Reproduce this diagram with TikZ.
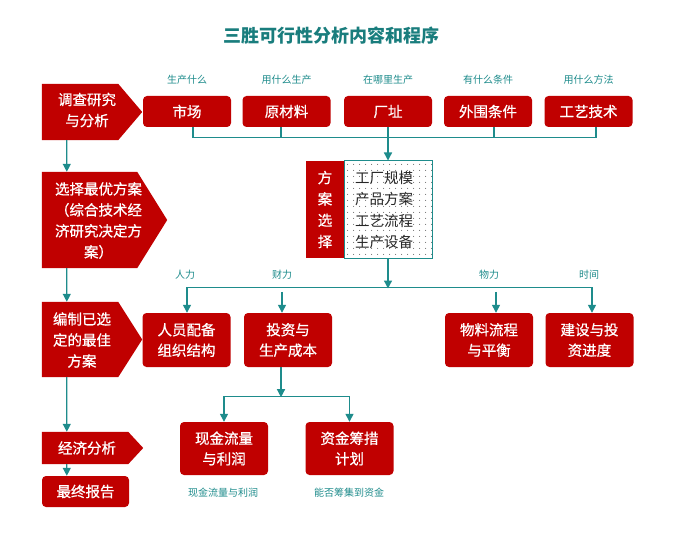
\documentclass[tikz,border=0pt]{standalone}
\usepackage{fontspec}
\setmainfont{Noto Sans CJK SC}
\newfontfamily\wfont[FakeBold=0.7]{Noto Sans CJK SC}
\usetikzlibrary{arrows.meta,patterns.meta,calc}
\definecolor{bred}{RGB}{192,0,0}
\definecolor{teall}{RGB}{30,140,140}
\definecolor{tealt}{RGB}{25,125,125}
\begin{document}
\begin{tikzpicture}[x=1bp,y=-1bp,
  box/.style={fill=bred, rounded corners=4bp, text=white, font=\wfont\fontsize{14.5bp}{20.5bp}\selectfont, align=center, inner sep=0, minimum width=88bp},
  pentarea/.style={inner sep=0},
  wtext/.style={text=white, font=\wfont\fontsize{14.5bp}{21bp}\selectfont, align=center, inner sep=0},
  lbl/.style={text=teall, font=\fontsize{10bp}{12bp}\selectfont, inner sep=0},
  conn/.style={draw=teall, line width=1.3bp},
  arr/.style={conn, -{Triangle[length=8bp,width=8bp]}},
  arrs/.style={conn, {Triangle[length=8bp,width=8bp]}-{Triangle[length=8bp,width=8bp]}},
]
\fill[white] (0,0) rectangle (682,536);
\useasboundingbox (0,0) rectangle (682,536);

% title
\node[font=\bfseries\fontsize{18bp}{20bp}\selectfont, text=tealt, inner sep=0] (title) at (331,36) {三胜可行性分析内容和程序};

% top row labels
\node[lbl] (l1) at (187,80) {生产什么};
\node[lbl] (l2) at (286.5,80) {用什么生产};
\node[lbl] (l3) at (388,80) {在哪里生产};
\node[lbl] (l4) at (488,80) {有什么条件};
\node[lbl] (l5) at (588.5,80) {用什么方法};

% top row boxes
\node[box, minimum height=31bp] (sc) at (187,111.5) {市场};
\node[box, minimum height=31bp] (ycl) at (286.5,111.5) {原材料};
\node[box, minimum height=31bp] (cz) at (388,111.5) {厂址};
\node[box, minimum height=31bp] (ww) at (488,111.5) {外围条件};
\node[box, minimum height=31bp] (gy) at (588.5,111.5) {工艺技术};

% left column areas
\node[pentarea, minimum width=76bp, minimum height=56bp] (p1) at (80,112) {};
\node[pentarea, minimum width=95bp, minimum height=96bp] (p2) at (89.5,220) {};
\node[pentarea, minimum width=76bp, minimum height=75bp] (p3) at (80,339.5) {};
\node[pentarea, minimum width=86bp, minimum height=32bp] (p4) at (85,448) {};
\fill[bred] (p1.north west) -- (p1.north east) -- ($(p1.east)+(24,0)$) -- (p1.south east) -- (p1.south west) -- cycle;
\fill[bred] (p2.north west) -- (p2.north east) -- ($(p2.east)+(30,0)$) -- (p2.south east) -- (p2.south west) -- cycle;
\fill[bred] (p3.north west) -- (p3.north east) -- ($(p3.east)+(24,0)$) -- (p3.south east) -- (p3.south west) -- cycle;
\fill[bred] (p4.north west) -- (p4.north east) -- ($(p4.east)+(15,0)$) -- (p4.south east) -- (p4.south west) -- cycle;
\node[wtext] (t1) at (87,110) {调查研究\\与分析};
\node[wtext] (t2) at (98.5,220.5) {选择最优方案\\（综合技术经\\济研究决定方\\案）};
\node[wtext] (t3) at (82,340) {编制已选\\定的最佳\\方案};
\node[wtext] (t4) at (87,448) {经济分析};
\node[box, minimum width=87bp, minimum height=31bp] (rep) at (85.5,491.5) {最终报告};

% scheme selection box
\node[fill=bred, minimum width=38bp, minimum height=97bp, inner sep=0, text=white, align=center, font=\wfont\fontsize{14.5bp}{21.3bp}\selectfont] (fa) at (325,209.5) {方\\案\\选\\择};
\node[draw=teall, line width=1bp, pattern={Dots[distance=6bp,radius=0.6bp]}, pattern color=black!55, minimum width=88bp, minimum height=97bp, inner sep=0] (fb) at (388,209.5) {};
\node[text=black!85, align=left, inner sep=0, font=\fontsize{14.5bp}{21.3bp}\selectfont] (fbt) at (384,210) {工厂规模\\产品方案\\工艺流程\\生产设备};

% second row labels
\node[lbl] (m1) at (185,275) {人力};
\node[lbl] (m2) at (282,275) {财力};
\node[lbl] (m3) at (489,275) {物力};
\node[lbl] (m4) at (589,275) {时间};

% second row boxes
\node[box, minimum height=54bp] (ry) at (186.5,340) {人员配备\\组织结构};
\node[box, minimum height=54bp] (tz) at (288,340) {投资与\\生产成本};
\node[box, minimum height=54bp] (wl) at (489,340) {物料流程\\与平衡};
\node[box, minimum height=54bp] (js) at (589.5,340) {建设与投\\资进度};

% third row boxes
\node[box, minimum height=53bp] (xj) at (224,448.5) {现金流量\\与利润};
\node[box, minimum height=53bp] (zj) at (349.5,448.5) {资金筹措\\计划};
\node[lbl] (b1) at (223,493) {现金流量与利润};
\node[lbl] (b2) at (349,493) {能否筹集到资金};

% connectors: top bus
\draw[conn] ($(sc.south)+(6,0)$) -- ($(sc.south)+(6,10)$) -| ($(gy.south)+(7.5,0)$);
\draw[conn] ($(ycl.south)+(-5.5,0)$) -- ($(ycl.south)+(-5.5,10)$);
\draw[conn] ($(ww.south)+(6,0)$) -- ($(ww.south)+(6,10)$);
\draw[arr] (cz.south) -- (fb.north);

% middle bus
\draw[arr] (fb.south) -- ($(fb.south)+(0,30)$);
\draw[arrs] ($(ry.north)+(0.5,0)$) |- ($(js.north)+(2.5,-25)$) -- ($(js.north)+(2.5,0)$);
\draw[arr] ($(tz.north)+(-6,-21)$) -- ($(tz.north)+(-6,0)$);
\draw[arr] ($(wl.north)+(7,-21)$) -- ($(wl.north)+(7,0)$);

% bottom bus
\draw[arr] ($(tz.south)+(-7,0)$) -- ($(tz.south)+(-7,30)$);
\draw[arrs] (xj.north) |- ($(zj.north)+(0,-25)$) -- (zj.north);

% left column arrows
\draw[arr] ($(p1.south west)+(25,0)$) -- ($(p2.north west)+(25,0)$);
\draw[arr] ($(p2.south west)+(25,0)$) -- ($(p3.north west)+(25,0)$);
\draw[arr] ($(p3.south west)+(25,0)$) -- ($(p4.north west)+(25,0)$);
\draw[arr] ($(p4.south west)+(25,0)$) -- ($(rep.north west)+(25,0)$);
\end{tikzpicture}
\end{document}
